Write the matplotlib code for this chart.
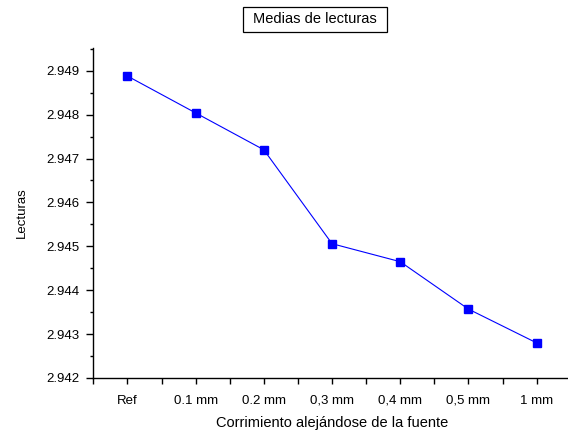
import matplotlib
matplotlib.use('Agg')
import matplotlib.pyplot as plt
from matplotlib.patches import Rectangle
from matplotlib.ticker import MultipleLocator, AutoMinorLocator

plt.rcParams['font.family'] = ['Liberation Sans', 'DejaVu Sans']

categorias = ['Ref', '0.1 mm', '0.2 mm', '0,3 mm', '0,4 mm', '0,5 mm', '1 mm']
lecturas = [2.94888, 2.94804, 2.94720, 2.94506, 2.94465, 2.94357, 2.94280]

fig = plt.figure(figsize=(5.68, 4.32), dpi=100)
ax = fig.add_axes([0.1643, 0.125, 0.8405, 0.764])

x = list(range(len(categorias)))
ax.plot(x, lecturas, color='blue', lw=0.8, marker='s', ms=5.5,
        mfc='blue', mec='blue')

ax.set_xlim(-0.5, 6.5)
ax.set_ylim(2.942, 2.94952)
ax.set_xticks(x)
ax.set_xticklabels(categorias)
ax.xaxis.set_minor_locator(MultipleLocator(0.5))
ax.yaxis.set_major_locator(MultipleLocator(0.001))
ax.yaxis.set_minor_locator(AutoMinorLocator(2))
ax.yaxis.set_major_formatter(plt.FormatStrFormatter('%.3f'))

for s in ['top', 'right']:
    ax.spines[s].set_visible(False)
for s in ['left', 'bottom']:
    ax.spines[s].set_linewidth(1.0)

ax.tick_params(which='major', direction='out', length=5, width=1.0, labelsize=9.5, pad=5)
ax.tick_params(which='minor', direction='out', length=2.5, width=1.0)
ax.tick_params(axis='x', which='both', length=4)
ax.tick_params(axis='x', which='major', pad=8)

ax.set_xlabel('Corrimiento alejándose de la fuente', fontsize=10.5, labelpad=7)
ax.set_ylabel('Lecturas', fontsize=9.5, labelpad=13)

# titulo con recuadro
fig.text(0.554, 0.9556, 'Medias de lecturas', ha='center', va='center', fontsize=10.5)
fig.patches.append(Rectangle((242.7 / 568, 1 - 31.7 / 432), 144 / 568, 25 / 432,
                             transform=fig.transFigure, fc='none', ec='black', lw=0.9))

fig.savefig('out.png', dpi=100)
